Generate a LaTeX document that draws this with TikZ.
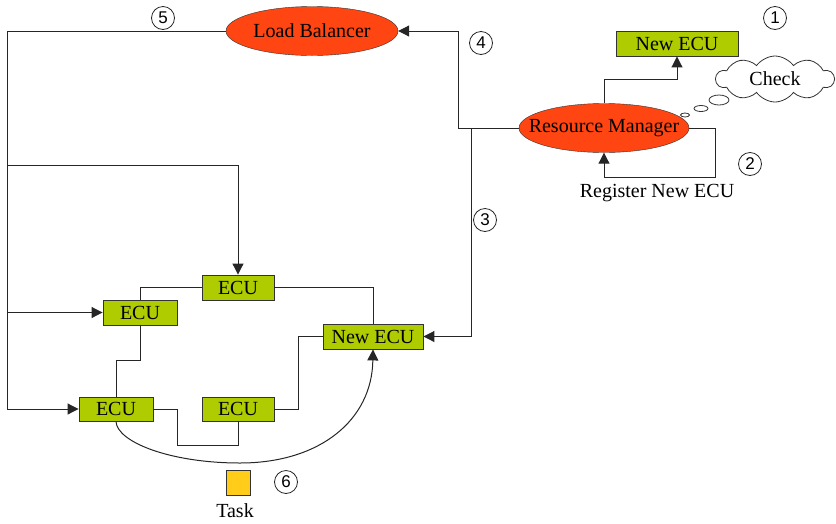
\documentclass[tikz,border=0pt]{standalone}
\usepackage{fontspec}
\setmainfont{Liberation Serif}
\newfontfamily\numfont{Liberation Sans}
\usetikzlibrary{shapes.geometric,shapes.symbols,arrows.meta}
\definecolor{redor}{HTML}{FF4511}
\definecolor{ecugreen}{HTML}{AECC00}
\definecolor{taskgold}{HTML}{FFCC1A}
\begin{document}
\begin{tikzpicture}[x=1pt,y=-1pt,
  ln/.style={draw=black!85, line width=1pt},
  arr/.style={ln, -{Triangle[length=11pt,width=11pt]}},
  txt/.style={font=\fontsize{20}{23}\selectfont},
  ell/.style={ellipse, draw=black!80, fill=redor, inner sep=0pt},
  ecu/.style={rectangle, draw=black!80, line width=0.9pt, fill=ecugreen, inner sep=0pt, txt},
  num/.style={circle, draw=black!85, line width=0.8pt, inner sep=0pt, minimum size=23pt, font=\numfont\fontsize{17}{20}\selectfont},
  bub/.style={ellipse, draw=black!80, line width=0.8pt, fill=white, inner sep=0pt}
]
\useasboundingbox (0,0) rectangle (836,523);

% nodes
\node[ell, minimum width=172pt, minimum height=49pt] (lb) at (312,31) {};
\node[txt] (lbt) at (lb) {Load Balancer};
\node[ell, minimum width=170pt, minimum height=49pt] (rm) at (604,128) {};
\node[txt] (rmt) at (rm) {Resource Manager};
\node[ecu, minimum width=122pt, minimum height=25pt] (necu1) at (677,43.5) {New ECU};
\node[ecu, minimum width=100pt, minimum height=25pt] (necu) at (373,336.5) {New ECU};
\node[ecu, minimum width=72pt, minimum height=25pt] (e1) at (238,287.5) {ECU};
\node[ecu, minimum width=74pt, minimum height=25pt] (e2) at (140,312.5) {ECU};
\node[ecu, minimum width=74pt, minimum height=24pt] (e3) at (116,409) {ECU};
\node[ecu, minimum width=72pt, minimum height=24pt] (e4) at (238,409) {ECU};
\node[rectangle, draw=black!80, fill=taskgold, minimum width=24pt, minimum height=25pt, inner sep=0pt] (task) at (238,482.5) {};
\node[txt] (tasklbl) at (235,511) {Task};
\node[txt] (reg) at (657,193) {Register New ECU};
\node[cloud, draw=black!80, line width=0.8pt, fill=white, cloud puffs=10, cloud puff arc=110, aspect=2.5, minimum width=118pt, minimum height=46pt, inner sep=0pt] (check) at (775,79) {};
\node[txt] (checkt) at (check) {Check};
\node[bub, minimum width=20pt, minimum height=10pt] (b1) at (719,100) {};
\node[bub, minimum width=14pt, minimum height=6pt] (b2) at (701,108.5) {};
\node[bub, minimum width=9pt, minimum height=4pt] (b3) at (685,115) {};

\node[num] (n1) at (775,18) {1};
\node[num] (n2) at (750,164) {2};
\node[num] (n3) at (485,220) {3};
\node[num] (n4) at (481,43) {4};
\node[num] (n5) at (163,18) {5};
\node[num] (n6) at (286,482) {6};

% coordinates
\coordinate (bl) at (7,409);
\coordinate (j1) at (7,165);
\coordinate (j2) at (7,312.5);
\coordinate (c4) at (458,128);
\coordinate (c3) at (471,128);
\coordinate (c2) at (715,177);
\coordinate (m1) at (140,360);
\coordinate (m2) at (177,445);
\coordinate (m3) at (298,409);
\coordinate (low) at (240,463);

% connectors
\draw[ln] (lb.west) -| (bl);
\draw[arr] (bl) -- (e3.west);
\draw[arr] (j2) -- (e2.west);
\draw[arr] (j1) -| (e1.north);
\draw[arr] (rm.west) -- (c4) |- (lb.east);
\draw[arr] (c3) |- (necu.east);
\draw[arr] (rm.north) -- ++(0,-24) -| (necu1.south);
\draw[arr] (rm.east) -| (c2) -| (rm.south);

\draw[ln] (e1.west) -| (e2.north);
\draw[ln] (e1.east) -| (necu.north);
\draw[ln] (e2.south) -- (m1) -| (e3.north);
\draw[ln] (e3.east) -| (m2) -| (e4.south);
\draw[ln] (e4.east) -- (m3) |- (necu.west);
\draw[arr] (e3.south) .. controls (117,442) and (170,463) .. (low)
  .. controls (320,463) and (372,420) .. (necu.south);
\end{tikzpicture}
\end{document}
